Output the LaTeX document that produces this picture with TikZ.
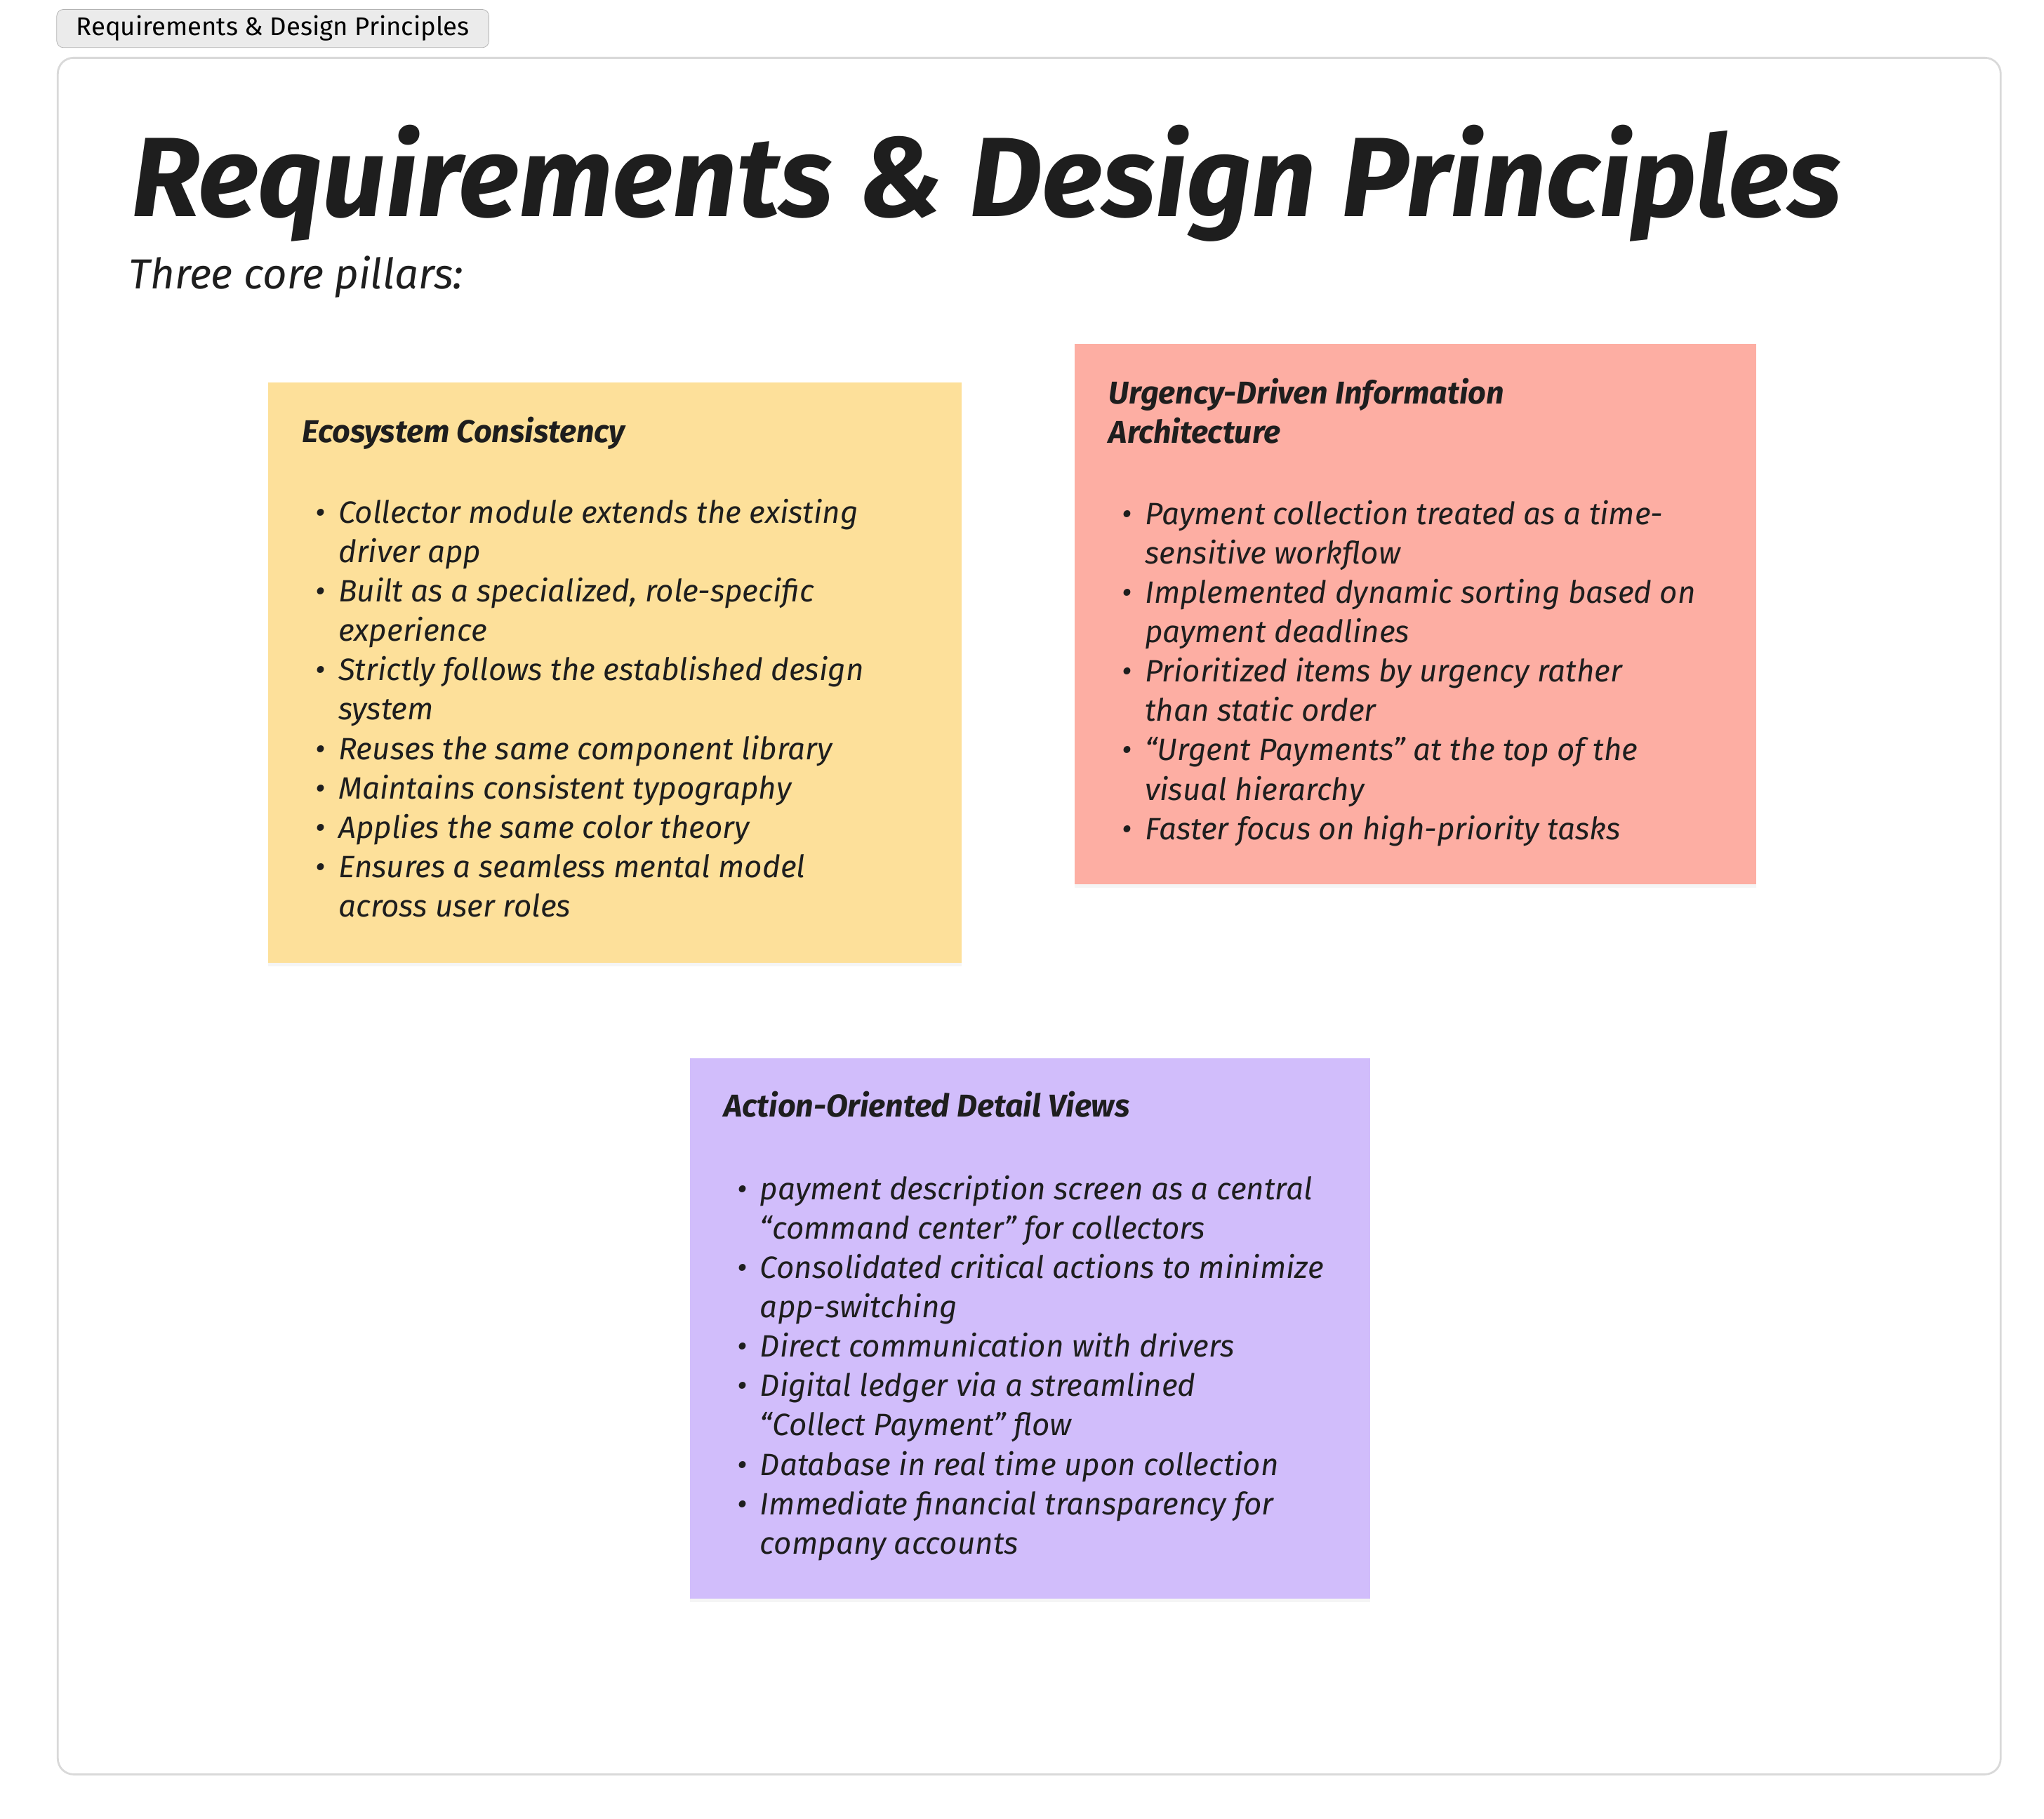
\documentclass[tikz,border=0pt]{standalone}
\usepackage{fontspec}
\setmainfont{Fira Sans}
\usetikzlibrary{shadows}
\definecolor{yel}{HTML}{FDE09A}
\definecolor{rd}{HTML}{FDAEA3}
\definecolor{pur}{HTML}{D1BDFB}
\definecolor{ink}{HTML}{1E1E1E}
\newcommand{\bodyf}{\fontsize{23.5}{30}\selectfont\itshape}
\tikzset{sticky/.style={fill=#1,draw=none,drop shadow={shadow xshift=0pt,shadow yshift=-3pt,opacity=0.08}},
 stxt/.style={anchor=north west,align=left,inner sep=0pt,text=ink},
 head/.style={stxt,font=\fontsize{24}{30}\selectfont\bfseries\itshape}}
\begin{document}
\begin{tikzpicture}[x=1pt,y=-1pt]
\useasboundingbox (0,0) rectangle (1556,1385);
\node[draw=black!30,fill=black!8,rounded corners=5pt,minimum width=329pt,minimum height=29pt,anchor=north west,inner sep=0pt,font=\fontsize{19.5}{22}\selectfont] (tab) at (43,7) {Requirements \& Design Principles};
\draw[black!15,line width=1.5pt,rounded corners=12pt] (44,44) rectangle (1523,1351);
\node[anchor=base west,inner sep=0pt,text=ink,font=\fontsize{86}{90}\selectfont\bfseries\itshape] (title) at (100,165) {Requirements \& Design Principles};
\node[anchor=base west,inner sep=0pt,text=ink,font=\fontsize{32}{36}\selectfont\itshape] (sub) at (98,220) {Three core pillars:};
\fill[sticky=yel] (204,291) rectangle (732,733);
\fill[sticky=rd] (818,262) rectangle (1337,673);
\fill[sticky=pur] (525,806) rectangle (1043,1217);
\node[head] (h1) at (230,317) {Ecosystem Consistency};
\node[stxt] (b1) at (240,377) {\bodyf\begin{tabular}{@{}l@{\hspace{10pt}}l@{}}
\textbullet & Collector module extends the existing\\ & driver app\\
\textbullet & Built as a specialized, role-specific\\ & experience\\
\textbullet & Strictly follows the established design\\ & system\\
\textbullet & Reuses the same component library\\
\textbullet & Maintains consistent typography\\
\textbullet & Applies the same color theory\\
\textbullet & Ensures a seamless mental model\\ & across user roles\end{tabular}};
\node[head] (h2) at (844,288) {Urgency-Driven Information\\Architecture};
\node[stxt] (b2) at (854,378) {\bodyf\begin{tabular}{@{}l@{\hspace{10pt}}l@{}}
\textbullet & Payment collection treated as a time-\\ & sensitive workflow\\
\textbullet & Implemented dynamic sorting based on\\ & payment deadlines\\
\textbullet & Prioritized items by urgency rather\\ & than static order\\
\textbullet & “Urgent Payments” at the top of the\\ & visual hierarchy\\
\textbullet & Faster focus on high-priority tasks\end{tabular}};
\node[head] (h3) at (551,831) {Action-Oriented Detail Views};
\node[stxt] (b3) at (561,892) {\bodyf\begin{tabular}{@{}l@{\hspace{10pt}}l@{}}
\textbullet & payment description screen as a central\\ & “command center” for collectors\\
\textbullet & Consolidated critical actions to minimize\\ & app-switching\\
\textbullet & Direct communication with drivers\\
\textbullet & Digital ledger via a streamlined\\ & “Collect Payment” flow\\
\textbullet & Database in real time upon collection\\
\textbullet & Immediate financial transparency for\\ & company accounts\end{tabular}};
\end{tikzpicture}
\end{document}
